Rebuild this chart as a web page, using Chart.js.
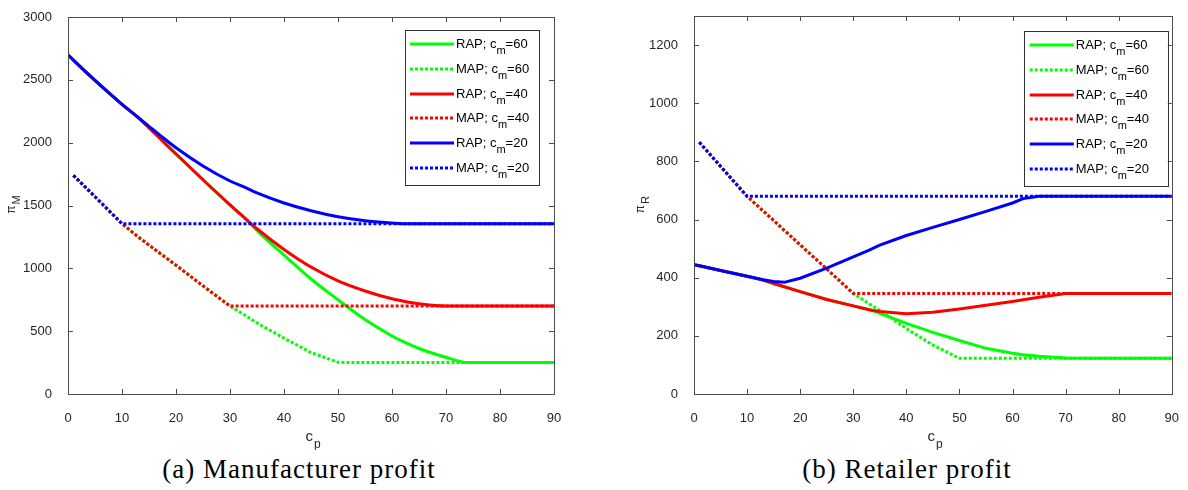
<!DOCTYPE html>
<html>
<head>
<meta charset="utf-8">
<script src="https://cdn.jsdelivr.net/npm/chart.js@4/dist/chart.umd.min.js"></script>
<style>
  body { margin: 0; background: #fff; width: 1188px; height: 490px; position: relative; overflow: hidden; }
  .box { position: absolute; top: 0; height: 450px; }
  .cap { position: absolute; top: 454px; font: 27px "Liberation Serif", serif; letter-spacing: 1px; color: #000; text-align: center; }
</style>
</head>
<body>
<div class="box" style="left:0;width:594px"><canvas id="chartM"></canvas></div>
<div class="box" style="left:600px;width:588px"><canvas id="chartR"></canvas></div>
<div class="cap" style="left:0;width:598px">(a) Manufacturer profit</div>
<div class="cap" style="left:607px;width:600px">(b) Retailer profit</div>
<script>
// c_p grid shared by all series
const cp = [0, 1, 5, 10, 13, 15, 17, 20, 25, 30, 33, 35, 40, 45, 50, 55, 60, 62, 65, 70, 74, 80, 90];

// (a) manufacturer profit
const rapM60 = [2700, 2657, 2495, 2305, 2200, 2118, 2035, 1910, 1705, 1505, 1390, 1300, 1105, 915, 750, 592, 462, 418, 362, 292, 250, 250, 250];
const mapM60 = [null, 1740, 1570, 1355, 1250, 1185, 1120, 1025, 860, 700, 620, 565, 445, 330, 252, 250, 250, 250, 250, 250, 250, 250, 250];
const rapM40 = [2700, 2657, 2495, 2305, 2200, 2118, 2035, 1910, 1705, 1505, 1390, 1315, 1150, 1010, 900, 820, 758, 740, 718, 700, 700, 700, 700];
const mapM40 = [null, 1740, 1570, 1355, 1250, 1185, 1120, 1025, 860, 700, 700, 700, 700, 700, 700, 700, 700, 700, 700, 700, 700, 700, 700];
const rapM20 = [2700, 2657, 2495, 2305, 2200, 2130, 2060, 1960, 1815, 1695, 1640, 1600, 1520, 1458, 1410, 1378, 1360, 1355, 1355, 1355, 1355, 1355, 1355];
const mapM20 = [null, 1740, 1570, 1355, 1355, 1355, 1355, 1355, 1355, 1355, 1355, 1355, 1355, 1355, 1355, 1355, 1355, 1355, 1355, 1355, 1355, 1355, 1355];

// (b) retailer profit
const rapR60 = [445, 441, 425, 405, 392, 380, 369, 352, 325, 303, 290, 277, 243, 212, 184, 157, 140, 135, 130, 124, 123, 123, 123];
const mapR60 = [null, 866, 783, 680, 630, 597, 563, 513, 430, 346, 310, 288, 225, 168, 123, 123, 123, 123, 123, 123, 123, 123, 123];
const rapR40 = [445, 441, 425, 405, 392, 380, 369, 352, 325, 303, 290, 284, 276, 281, 292, 305, 318, 324, 333, 346, 346, 346, 346];
const mapR40 = [null, 866, 783, 680, 630, 597, 563, 513, 430, 346, 346, 346, 346, 346, 346, 346, 346, 346, 346, 346, 346, 346, 346];
const rapR20 = [445, 441, 425, 405, 393, 387, 384, 398, 433, 472, 495, 512, 545, 573, 600, 628, 657, 672, 680, 680, 680, 680, 680];
const mapR20 = [null, 866, 783, 680, 680, 680, 680, 680, 680, 680, 680, 680, 680, 680, 680, 680, 680, 680, 680, 680, 680, 680, 680];

const xTicks = [0, 10, 20, 30, 40, 50, 60, 70, 80, 90];
const yTicksM = [0, 500, 1000, 1500, 2000, 2500, 3000];
const yTicksR = [0, 200, 400, 600, 800, 1000, 1200];

const legendNames = [['RAP; c', 'm', '=60'], ['MAP; c', 'm', '=60'], ['RAP; c', 'm', '=40'],
                     ['MAP; c', 'm', '=40'], ['RAP; c', 'm', '=20'], ['MAP; c', 'm', '=20']];
const colors = ['#00ff00', '#00ff00', '#ff0000', '#ff0000', '#0000ff', '#0000ff'];
const dotted = [false, true, false, true, false, true];
const DASH = [3, 2];

function makeSets(series, smoothRap) {
  return series.map((s, i) => ({
    label: legendNames[i].join(''),
    data: s.map((v, k) => ({ x: cp[k], y: v })),
    borderColor: colors[i],
    borderWidth: 3,
    borderDash: dotted[i] ? DASH : [],
    borderCapStyle: 'butt',
    pointRadius: 0,
    // MAP curves have sharp corners, RAP curves bend smoothly
    cubicInterpolationMode: (smoothRap && !dotted[i]) ? 'monotone' : 'default',
    tension: 0,
    order: 6 - i   // later series drawn on top, like the original
  }));
}

// box, inward ticks, axis titles with subscripts, legend
const frame = {
  id: 'frame',
  afterDraw(chart, args, o) {
    const { ctx, chartArea: a, scales: { x, y } } = chart;
    ctx.save();
    ctx.strokeStyle = '#4d4d4d';
    ctx.lineWidth = 1;
    ctx.strokeRect(Math.round(a.left) + 0.5, Math.round(a.top) + 0.5, Math.round(a.width), Math.round(a.height));
    ctx.beginPath();
    x.ticks.forEach(t => {
      const px = Math.round(x.getPixelForValue(t.value)) + 0.5;
      ctx.moveTo(px, a.bottom); ctx.lineTo(px, a.bottom - 5);
      ctx.moveTo(px, a.top); ctx.lineTo(px, a.top + 5);
    });
    y.ticks.forEach(t => {
      const py = Math.round(y.getPixelForValue(t.value)) + 0.5;
      ctx.moveTo(a.left, py); ctx.lineTo(a.left + 5, py);
      ctx.moveTo(a.right, py); ctx.lineTo(a.right - 5, py);
    });
    ctx.stroke();

    ctx.fillStyle = '#262626';
    ctx.textBaseline = 'alphabetic';
    // x title c_p
    const cx = (a.left + a.right) / 2;
    ctx.font = '15px "Liberation Sans", Arial, sans-serif';
    ctx.textAlign = 'right';
    ctx.fillText('c', cx + 2, a.bottom + 47);
    ctx.font = '12px "Liberation Sans", Arial, sans-serif';
    ctx.textAlign = 'left';
    ctx.fillText('p', cx + 3, a.bottom + 54);
    // y title pi_X
    ctx.save();
    ctx.translate(o.yTitleX, (a.top + a.bottom) / 2);
    ctx.rotate(-Math.PI / 2);
    ctx.font = '12px "Liberation Sans", Arial, sans-serif';
    ctx.textAlign = 'right';
    ctx.fillText('\u03c0', 0, 0);
    ctx.font = '11px "Liberation Sans", Arial, sans-serif';
    ctx.textAlign = 'left';
    ctx.fillText(o.ySub, 1, 5);
    ctx.restore();

    // legend
    const L = o.legend;
    const lx = a.right - L.right - L.w, ly = a.top + L.top;
    ctx.fillStyle = '#fff';
    ctx.fillRect(lx, ly, L.w, L.h);
    ctx.strokeStyle = '#333';
    ctx.strokeRect(Math.round(lx) + 0.5, Math.round(ly) + 0.5, L.w, L.h);
    chart.data.datasets.forEach((ds, i) => {
      const ry = Math.round(ly + 14 + i * 24.8);
      ctx.beginPath();
      ctx.strokeStyle = ds.borderColor;
      ctx.lineWidth = 3;
      ctx.lineCap = 'butt';
      ctx.setLineDash(ds.borderDash);
      ctx.moveTo(lx + L.pad, ry);
      ctx.lineTo(lx + L.pad + 44, ry);
      ctx.stroke();
      ctx.setLineDash([]);
      const [a1, sub, a2] = legendNames[i];
      let tx = lx + L.pad + 46;
      ctx.fillStyle = '#000';
      ctx.textAlign = 'left';
      ctx.font = '13px "Liberation Sans", Arial, sans-serif';
      ctx.fillText(a1, tx, ry + 4);
      tx += ctx.measureText(a1).width;
      ctx.font = '11px "Liberation Sans", Arial, sans-serif';
      ctx.fillText(sub, tx, ry + 10);
      tx += ctx.measureText(sub).width;
      ctx.font = '13px "Liberation Sans", Arial, sans-serif';
      ctx.fillText(a2, tx, ry + 4);
    });
    ctx.restore();
  }
};

function makeChart(id, series, smoothRap, yMax, yTicks, yWidth, padTop, padRight, frameOpts) {
  const tickFont = { family: '"Liberation Sans", Arial, sans-serif', size: 13 };
  return new Chart(document.getElementById(id), {
    type: 'line',
    data: { datasets: makeSets(series, smoothRap) },
    options: {
      responsive: true,
      maintainAspectRatio: false,
      animation: false,
      layout: { padding: { top: padTop, right: padRight, left: 0, bottom: 0 } },
      plugins: { legend: { display: false }, tooltip: { enabled: false }, frame: frameOpts },
      scales: {
        x: {
          type: 'linear', min: 0, max: 90,
          afterBuildTicks: s => { s.ticks = xTicks.map(v => ({ value: v })); },
          afterFit: s => { s.height = 56; },
          grid: { display: false }, border: { display: false },
          ticks: { padding: 9, color: '#262626', font: tickFont, maxRotation: 0, callback: v => String(v) }
        },
        y: {
          min: 0, max: yMax,
          afterBuildTicks: s => { s.ticks = yTicks.map(v => ({ value: v })); },
          afterFit: s => { s.width = yWidth; },
          grid: { display: false }, border: { display: false },
          ticks: { padding: 8, color: '#262626', font: tickFont, callback: v => String(v) }
        }
      }
    },
    plugins: [frame]
  });
}

makeChart('chartM', [rapM60, mapM60, rapM40, mapM40, rapM20, mapM20], true, 3000, yTicksM, 68, 17, 40,
  { yTitleX: 15, ySub: 'M', legend: { right: 15, top: 13, w: 134, h: 155, pad: 5 } });
makeChart('chartR', [rapR60, mapR60, rapR40, mapR40, rapR20, mapR20], false, 1300, yTicksR, 94, 16, 11,
  { yTitleX: 44, ySub: 'R', legend: { right: 4, top: 15, w: 144, h: 155, pad: 6 } });
</script>
</body>
</html>
